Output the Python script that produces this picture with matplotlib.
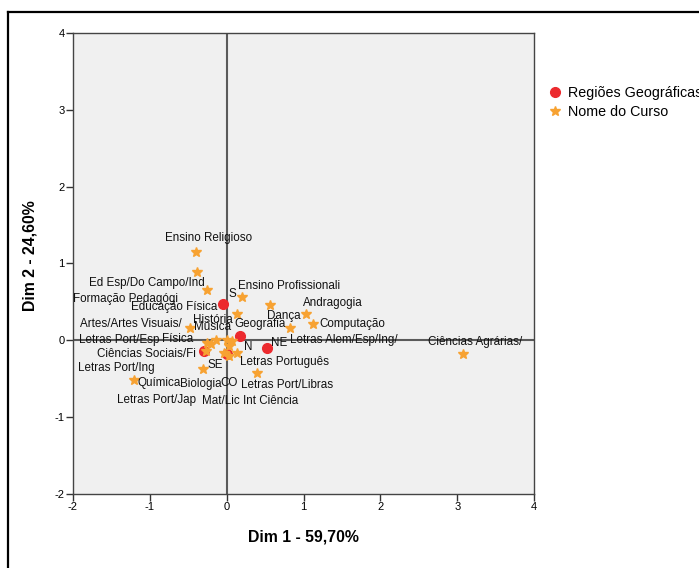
import matplotlib.pyplot as plt
from matplotlib.lines import Line2D

plt.rcParams['font.family'] = ['Liberation Sans', 'DejaVu Sans']
plt.rcParams['axes.unicode_minus'] = False

# course points (Nome do Curso)
cursos = ['Ensino Religioso', 'Ed Esp/Do Campo/Ind', 'Formação Pedagógi', 'Educação Física',
          'Artes/Artes Visuais/', 'Letras Port/Esp', 'Física', 'Música', 'História',
          'Letras Port/Jap', 'Ciências Sociais/Fi', 'Biologia', 'Mat/Lic Int Ciência',
          'Letras Português', 'Letras Port/Ing', 'Letras Port/Libras', 'Ensino Profissionali',
          'Dança', 'Andragogia', 'Computação', 'Geografia', 'Ciências Agrárias/', 'Química',
          'Letras Alem/Esp/Ing/']
cursos_d1 = [-0.40, -0.39, -0.25, 0.14, -0.48, -0.26, -0.20, -0.14, 0.01, 0.03, -0.27, -0.04,
             0.03, 0.14, -0.31, 0.39, 0.20, 0.57, 1.03, 1.12, 0.82, 3.07, -1.20, 0.07]
cursos_d2 = [1.15, 0.89, 0.66, 0.34, 0.16, -0.03, -0.05, 0.00, 0.00, -0.07, -0.14, -0.16,
             -0.20, -0.17, -0.37, -0.43, 0.56, 0.46, 0.34, 0.21, 0.16, -0.18, -0.52, -0.01]

# region points (Regiões Geográficas)
regioes = ['S', 'N', 'NE', 'SE', 'CO']
regioes_d1 = [-0.05, 0.18, 0.53, -0.29, 0.01]
regioes_d2 = [0.47, 0.05, -0.10, -0.14, -0.18]

# label offsets in pixels (text centre relative to point)
cursos_off = [(12.5, 14), (-50, -11), (-82, -9), (-63.5, 7), (-58.5, 4), (-87, 3), (-34, 5),
              (-3.5, 13), (-14.5, 20), (-72.5, -54), (-59.5, -3), (-23, -31), (21, -45),
              (47.5, -9), (-87, 1), (30, -12), (47, 11), (13.5, -11), (27, 11), (40, 0),
              (-29.5, 4), (13, 12), (24.5, -3), (112, 1)]
regioes_off = [(9.5, 10), (7.5, -11), (12, 5), (10.5, -14), (2, -29)]

red = '#ec2a2e'
orange = '#f7a232'

fig = plt.figure(figsize=(6.99, 5.68), dpi=100)
ax = fig.add_axes([0.1044, 0.1303, 0.6596, 0.8116])
ax.set_facecolor('#f0f0f0')

ax.axhline(0, color='#5a5a5a', lw=1.5, zorder=1)
ax.axvline(0, color='#5a5a5a', lw=1.5, zorder=1)

ax.plot(regioes_d1, regioes_d2, 'o', color=red, ms=7, mec=red, ls='none', zorder=3,
        label='Regiões Geográficas')
ax.plot(cursos_d1, cursos_d2, '*', color=orange, ms=7, mec=orange, ls='none', zorder=4,
        label='Nome do Curso')

for name, x, y, off in zip(cursos, cursos_d1, cursos_d2, cursos_off):
    ax.annotate(name, (x, y), xytext=off, textcoords='offset pixels',
                ha='center', va='center', fontsize=8.4, color='#111111', zorder=5)
for name, x, y, off in zip(regioes, regioes_d1, regioes_d2, regioes_off):
    ax.annotate(name, (x, y), xytext=off, textcoords='offset pixels',
                ha='center', va='center', fontsize=8.4, color='#111111', zorder=5)

ax.set_xlim(-2, 4)
ax.set_ylim(-2, 4)
ax.set_xticks(range(-2, 5))
ax.set_yticks(range(-2, 5))
ax.tick_params(labelsize=8, length=5, width=1, color='#333333', pad=1)
for s in ax.spines.values():
    s.set_color('#444444')
    s.set_linewidth(1)

ax.set_xlabel('Dim 1 - 59,70%', fontsize=11.4, fontweight='bold')
ax.set_ylabel('Dim 2 - 24,60%', fontsize=11.4, fontweight='bold')
ax.xaxis.set_label_coords(0.5, -0.076)
ax.yaxis.set_label_coords(-0.076, 0.518)

leg = fig.legend(loc='upper left', bbox_to_anchor=(0.775, 0.858), frameon=False,
                 fontsize=10.3, handletextpad=0.45, labelspacing=0.3, handlelength=1.0,
                 borderaxespad=0)

# outer frame (left and top edges visible)
fig.add_artist(Line2D([0.0114, 0.0114], [0.0, 0.9789], color='black', lw=1.6,
                      transform=fig.transFigure))
fig.add_artist(Line2D([0.0114, 1.0], [0.9789, 0.9789], color='black', lw=1.6,
                      transform=fig.transFigure))

fig.savefig('out.png', dpi=100)
